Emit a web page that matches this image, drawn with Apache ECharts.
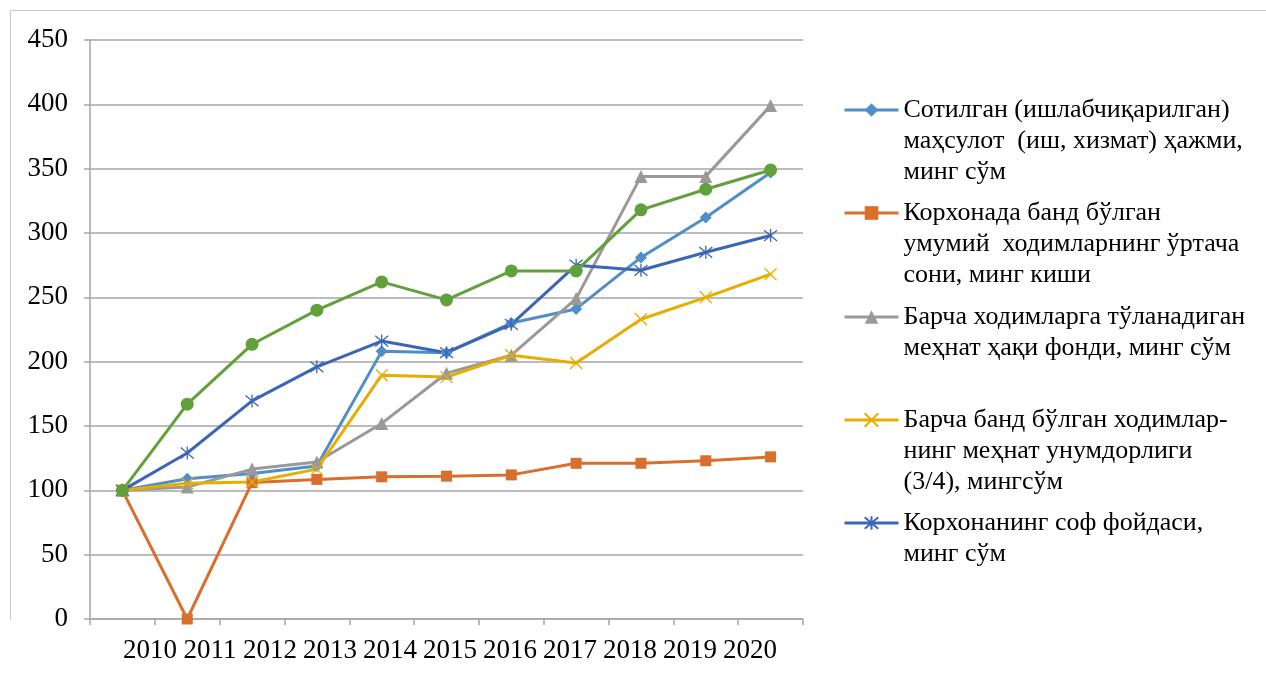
<!DOCTYPE html>
<html><head><meta charset="utf-8">
<script src="https://cdn.jsdelivr.net/npm/echarts@6/dist/echarts.min.js"></script>
<style>html,body{margin:0;padding:0;background:#fff}#c{width:1266px;height:673px}</style>
</head><body><div id="c"></div>
<script>
const years = ['2010','2011','2012','2013','2014','2015','2016','2017','2018','2019','2020'];
const sold = [100,109,113,119,208,207,230,241,281,312,347];
const staff = [100,0,106,108.5,110.5,111,112,121,121,123,126];
const wageFund = [100,102.5,116.5,122,152,191,205,249,344,344,399];
const productivity = [100,105.5,106.5,116.5,189.5,188,205,199,233,250,268];
const netProfit = [100,129,169.5,196,216,207,229,275,271,285,298];
const series6 = [100,167,213.5,240,262,248,270.5,270.5,318,334,349];
const names = [
  'Сотилган (ишлабчиқарилган)\nмаҳсулот  (иш, хизмат) ҳажми,\nминг сўм',
  'Корхонада банд бўлган\nумумий  ходимларнинг ўртача\nсони, минг киши',
  'Барча ходимларга тўланадиган\nмеҳнат ҳақи фонди, минг сўм',
  'Барча банд бўлган ходимлар-\nнинг меҳнат унумдорлиги\n(3/4), мингсўм',
  'Корхонанинг соф фойдаси,\nминг сўм'
];
const legendIconY = [110, 213, 317, 420, 523];

const FONT = 'Liberation Serif, Times New Roman, serif';
const FS = 27, LFS = 26, LH = 31;
const colors = ['#4e8fcb','#d86f2c','#999999','#e6ae00','#3b66b5','#62a03c'];

function mkLegend(i){
  const n = names[i].split('\n').length;
  const half = ((2*n-1)*LH)/2;
  return {
    data:[names[i]], orient:'vertical', left:843, top: legendIconY[i]-half,
    padding:0, itemWidth:54, itemHeight:17, itemGap:0,
    lineStyle:{width:3},
    formatter: nm => '\n'.repeat(n-1) + nm,
    textStyle:{fontFamily:FONT, fontSize:LFS, lineHeight:LH, color:'#000'}
  };
}

const crossPath = 'path://M0,0L10,10M10,0L0,10';
const starPath = 'path://M0,0L10,10M10,0L0,10M5,-1L5,11';

function line(name, data, color, symbol, size, stroke){
  return {
    name, type:'line', data, xAxisIndex:0, yAxisIndex:0,
    symbol, symbolSize:size, showAllSymbol:true,
    lineStyle:{color, width:3},
    itemStyle: stroke ? {color:'rgba(0,0,0,0)', borderColor:color, borderWidth:1.3} : {color, borderWidth:0},
    emphasis:{disabled:true}, animation:false
  };
}

const chart = echarts.init(document.getElementById('c'));
chart.setOption({
  backgroundColor:'#fff',
  animation:false,
  graphic:[
    {type:'polyline', shape:{points:[[10.5,620],[10.5,10.5],[1266,10.5]]}, style:{stroke:'#c8c8c8', lineWidth:1, fill:null}, silent:true}
  ],
  legend:[0,1,2,3,4].map(mkLegend),
  grid:[
    {left:90, right:463, top:40, bottom:54},
    {left:120, width:660, top:40, bottom:54}
  ],
  xAxis:[
    {type:'category', data:years, gridIndex:0, boundaryGap:true,
     axisLine:{lineStyle:{color:'#a6a6a6', width:1.5}},
     axisTick:{show:true, alignWithLabel:false, length:6, lineStyle:{color:'#a6a6a6', width:1.5}},
     axisLabel:{show:false}},
    {type:'category', data:years, gridIndex:1, boundaryGap:true,
     axisLine:{show:false}, axisTick:{show:false}, splitLine:{show:false},
     axisLabel:{show:true, interval:0, margin:18, fontFamily:FONT, fontSize:FS, color:'#000'}}
  ],
  yAxis:[
    {type:'value', gridIndex:0, min:0, max:450, interval:50,
     axisLine:{show:true, lineStyle:{color:'#a6a6a6', width:1.5}},
     axisTick:{show:true, length:6, lineStyle:{color:'#a6a6a6', width:1.5}},
     splitLine:{lineStyle:{color:'#a6a6a6', width:1.5}},
     axisLabel:{margin:22, fontFamily:FONT, fontSize:FS, color:'#000'}},
    {type:'value', gridIndex:1, min:0, max:450, show:false}
  ],
  series:[
    line(names[0], sold, colors[0], 'diamond', 12, false),
    line(names[1], staff, colors[1], 'rect', 11, false),
    line(names[2], wageFund, colors[2], 'triangle', 13, false),
    line(names[3], productivity, colors[3], crossPath, 12, true),
    line(names[4], netProfit, colors[4], starPath, 13, true),
    line('6', series6, colors[5], 'circle', 13, false)
  ]
});
</script></body></html>
